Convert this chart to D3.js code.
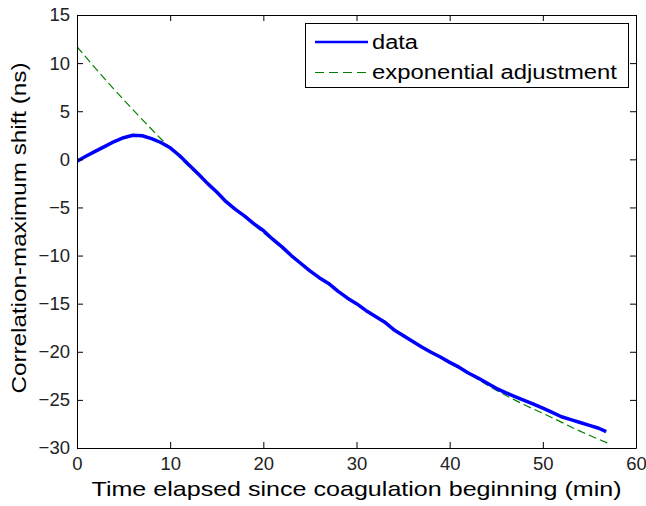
<!DOCTYPE html>
<html>
<head>
<meta charset="utf-8">
<script src="https://cdn.jsdelivr.net/npm/d3@7"></script>
<style>
body { margin:0; background:#fff; }
text { font-family: "Liberation Sans", Arial, sans-serif; }
</style>
</head>
<body>
<script>
// measured data (minutes, ns)
var dataTime  = [0,1,2,3,4,5,6,7,8,9,10,11,12,13,14,15,16,17,18,19,20,21,22,23,24,25,26,27,28,29,
                 30,31,32,33,34,35,36,37,38,39,40,41,42,43,44,45,46,47,48,49,50,51,52,53,54,55,56,56.8];
var dataShift = [-0.2,0.35,0.85,1.35,1.85,2.25,2.5,2.45,2.15,1.75,1.2,0.4,-0.55,-1.5,-2.5,-3.4,-4.4,-5.2,-5.9,-6.7,
                 -7.4,-8.3,-9.1,-10.0,-10.8,-11.6,-12.3,-12.9,-13.7,-14.4,-15.0,-15.7,-16.3,-16.9,-17.7,-18.3,-18.9,-19.5,-20.05,-20.55,
                 -21.1,-21.6,-22.2,-22.7,-23.25,-23.8,-24.25,-24.65,-25.05,-25.45,-25.85,-26.3,-26.75,-27.05,-27.35,-27.65,-27.95,-28.3];

// exponential fit
var fitTime  = [0,3,6,9,12,15,18,21,24,27,30,33,36,39,42,45,48,51,54,57];
var fitShift = [11.7,8.34,5.16,2.14,-0.72,-3.43,-6.0,-8.43,-10.74,-12.93,-15.0,-16.96,-18.82,-20.59,-22.26,-24.0,-25.5,-26.85,-28.25,-29.5];

var xTicks = [0,10,20,30,40,50,60];
var yTicks = [15,10,5,0,-5,-10,-15,-20,-25,-30];

var width = 646, height = 506;
var margin = {left:77, top:15, right:10, bottom:58};
var w = 559, h = 433;

var svg = d3.select("body").append("svg").attr("width",width).attr("height",height);

var x = d3.scaleLinear().domain([0,60]).range([0,w]);
var y = d3.scaleLinear().domain([-30,15]).range([h,0]);

var chart = svg.append("g").attr("transform","translate("+margin.left+","+margin.top+")");

chart.append("clipPath").attr("id","clip")
  .append("rect").attr("width",w).attr("height",h);

// fit line (dashed green)
var fitLine = d3.line()
  .x(function(d,i){ return x(fitTime[i]); })
  .y(function(d){ return y(d); })
  .curve(d3.curveMonotoneX);

chart.append("path")
  .datum(fitShift)
  .attr("clip-path","url(#clip)")
  .attr("d",fitLine)
  .attr("fill","none")
  .attr("stroke","#008000")
  .attr("stroke-width",1.2)
  .attr("stroke-dasharray","8,4");

// data line (blue)
var dataLine = d3.line()
  .x(function(d,i){ return x(dataTime[i]); })
  .y(function(d){ return y(d); });

chart.append("path")
  .datum(dataShift)
  .attr("clip-path","url(#clip)")
  .attr("d",dataLine)
  .attr("fill","none")
  .attr("stroke","#0000ff")
  .attr("stroke-width",3.5)
  .attr("stroke-linejoin","round");

// axes, ticks pointing inward on all 4 sides
chart.append("g").attr("transform","translate(0,"+h+")")
  .call(d3.axisBottom(x).tickValues(xTicks).tickSize(-6).tickSizeOuter(0).tickPadding(9));
chart.append("g")
  .call(d3.axisLeft(y).tickValues(yTicks).tickSize(-6).tickSizeOuter(0).tickPadding(7));
chart.append("g")
  .call(d3.axisTop(x).tickValues(xTicks).tickSize(-6).tickSizeOuter(0).tickFormat(""));
chart.append("g").attr("transform","translate("+w+",0)")
  .call(d3.axisRight(y).tickValues(yTicks).tickSize(-6).tickSizeOuter(0).tickFormat(""));

chart.selectAll(".tick text")
  .attr("font-family","Liberation Sans, Arial, sans-serif")
  .attr("font-size",18.5)
  .attr("fill","#222");
chart.selectAll(".domain, .tick line").attr("stroke","#000");

// axis labels
svg.append("text")
  .attr("x",margin.left+w/2)
  .attr("y",496)
  .attr("text-anchor","middle")
  .attr("font-size",21)
  .attr("textLength",530)
  .attr("lengthAdjust","spacingAndGlyphs")
  .text("Time elapsed since coagulation beginning (min)");

svg.append("text")
  .attr("transform","translate(26,228) rotate(-90)")
  .attr("text-anchor","middle")
  .attr("font-size",20)
  .attr("textLength",331)
  .attr("lengthAdjust","spacingAndGlyphs")
  .text("Correlation-maximum shift (ns)");

// legend
var legend = svg.append("g");
legend.append("rect")
  .attr("x",305.5).attr("y",23.5).attr("width",323).attr("height",64)
  .attr("fill","#fff").attr("stroke","#000");
legend.append("line")
  .attr("x1",315).attr("x2",368).attr("y1",42).attr("y2",42)
  .attr("stroke","#0000ff").attr("stroke-width",2.5);
legend.append("text")
  .attr("x",372).attr("y",49)
  .attr("font-size",20)
  .attr("textLength",46)
  .attr("lengthAdjust","spacingAndGlyphs")
  .text("data");
legend.append("line")
  .attr("x1",315).attr("x2",368).attr("y1",72.5).attr("y2",72.5)
  .attr("stroke","#008000").attr("stroke-width",1.2)
  .attr("stroke-dasharray","9,5");
legend.append("text")
  .attr("x",372).attr("y",79)
  .attr("font-size",20)
  .attr("textLength",245)
  .attr("lengthAdjust","spacingAndGlyphs")
  .text("exponential adjustment");
</script>
</body>
</html>
